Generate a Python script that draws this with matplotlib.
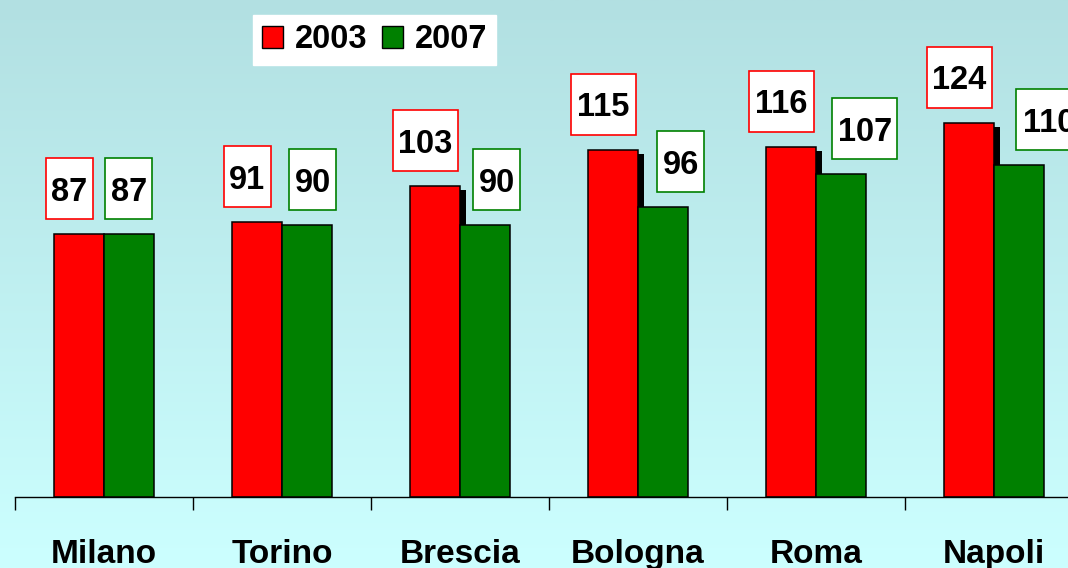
import numpy as np
import matplotlib.pyplot as plt
from matplotlib.patches import Rectangle

# data
cities = ['Milano', 'Torino', 'Brescia', 'Bologna', 'Roma', 'Napoli']
years = ['2003', '2007']
v2003 = [87, 91, 103, 115, 116, 124]
v2007 = [87, 90, 90, 96, 107, 110]

plt.rcParams['font.family'] = ['Liberation Sans', 'DejaVu Sans']
plt.rcParams['font.weight'] = 'bold'

RED = '#FF0000'
GREEN = '#008000'

fig = plt.figure(figsize=(10.68, 5.68), dpi=100)

# gradient background
bg = fig.add_axes([0, 0, 1, 1], zorder=-1)
top = np.array([178, 224, 226]) / 255
bottom = np.array([204, 255, 255]) / 255
t = np.linspace(0, 1, 256)[:, None]
grad = top[None, :] * (1 - t) + bottom[None, :] * t
bg.imshow(grad[:, None, :], aspect='auto', extent=[0, 1, 0, 1])
bg.axis('off')

ax = fig.add_axes([15 / 1068, 71 / 568, 1053 / 1068, 497 / 568])
ax.patch.set_alpha(0)

x = np.arange(len(cities))
w = 0.28
px_x = 178.0   # pixels per category
px_y = 3.02    # pixels per unit

# shadow behind the 2003 bars
ax.bar(x - w / 2 + 6 / px_x, np.array(v2003) - 4 / px_y, w, color='black', zorder=1)
ax.bar(x - w / 2, v2003, w, color=RED, edgecolor='black', linewidth=1.1, zorder=2)
ax.bar(x + w / 2, v2007, w, color=GREEN, edgecolor='black', linewidth=1.1, zorder=3)

for s in ['top', 'right', 'left']:
    ax.spines[s].set_visible(False)
ax.spines['bottom'].set_linewidth(1.0)
ax.set_yticks([])
ax.set_xticks(x)
ax.set_xticklabels(cities, fontsize=24, fontweight='bold')
ax.tick_params(axis='x', which='major', length=0, pad=30)
ax.set_xticks(np.arange(-0.5, len(cities), 1), minor=True)
ax.tick_params(axis='x', which='minor', length=9, width=1, direction='out')

ax.set_xlim(-0.5, -0.5 + 1053 / px_x)
ax.set_ylim(0, 497 / px_y)

# boxed value labels
def boxed(vals, dx_px, color):
    for i, (xi, v) in enumerate(zip(x, vals)):
        bw = (47 if v < 100 else 65) / px_x
        bh = 61 / px_y
        cx = xi + dx_px(i) / px_x
        cy = v + 15
        ax.add_patch(Rectangle((cx - bw / 2, cy - bh / 2), bw, bh, facecolor='white',
                               edgecolor=color, linewidth=1.2, clip_on=False, zorder=4))
        ax.text(cx, cy, str(v), ha='center', va='center_baseline', fontsize=23.5,
                fontweight='bold', zorder=5)

boxed(v2003, lambda i: -w / 2 * px_x - 10, RED)
boxed(v2007, lambda i: w / 2 * px_x + 6 * i, GREEN)

handles = [Rectangle((0, 0), 1, 1, facecolor=RED, edgecolor='black', linewidth=1),
           Rectangle((0, 0), 1, 1, facecolor=GREEN, edgecolor='black', linewidth=1)]
leg = fig.legend(handles, years, loc='center', bbox_to_anchor=(374.5 / 1068, 1 - 40 / 568),
                 ncol=2, frameon=True, fancybox=False, edgecolor='white', facecolor='white',
                 framealpha=1, handlelength=0.64, handleheight=0.64, handletextpad=0.37,
                 columnspacing=0.45, borderpad=0.28, prop=dict(size=23.5, weight='bold'))

fig.savefig('out.png', dpi=100)
